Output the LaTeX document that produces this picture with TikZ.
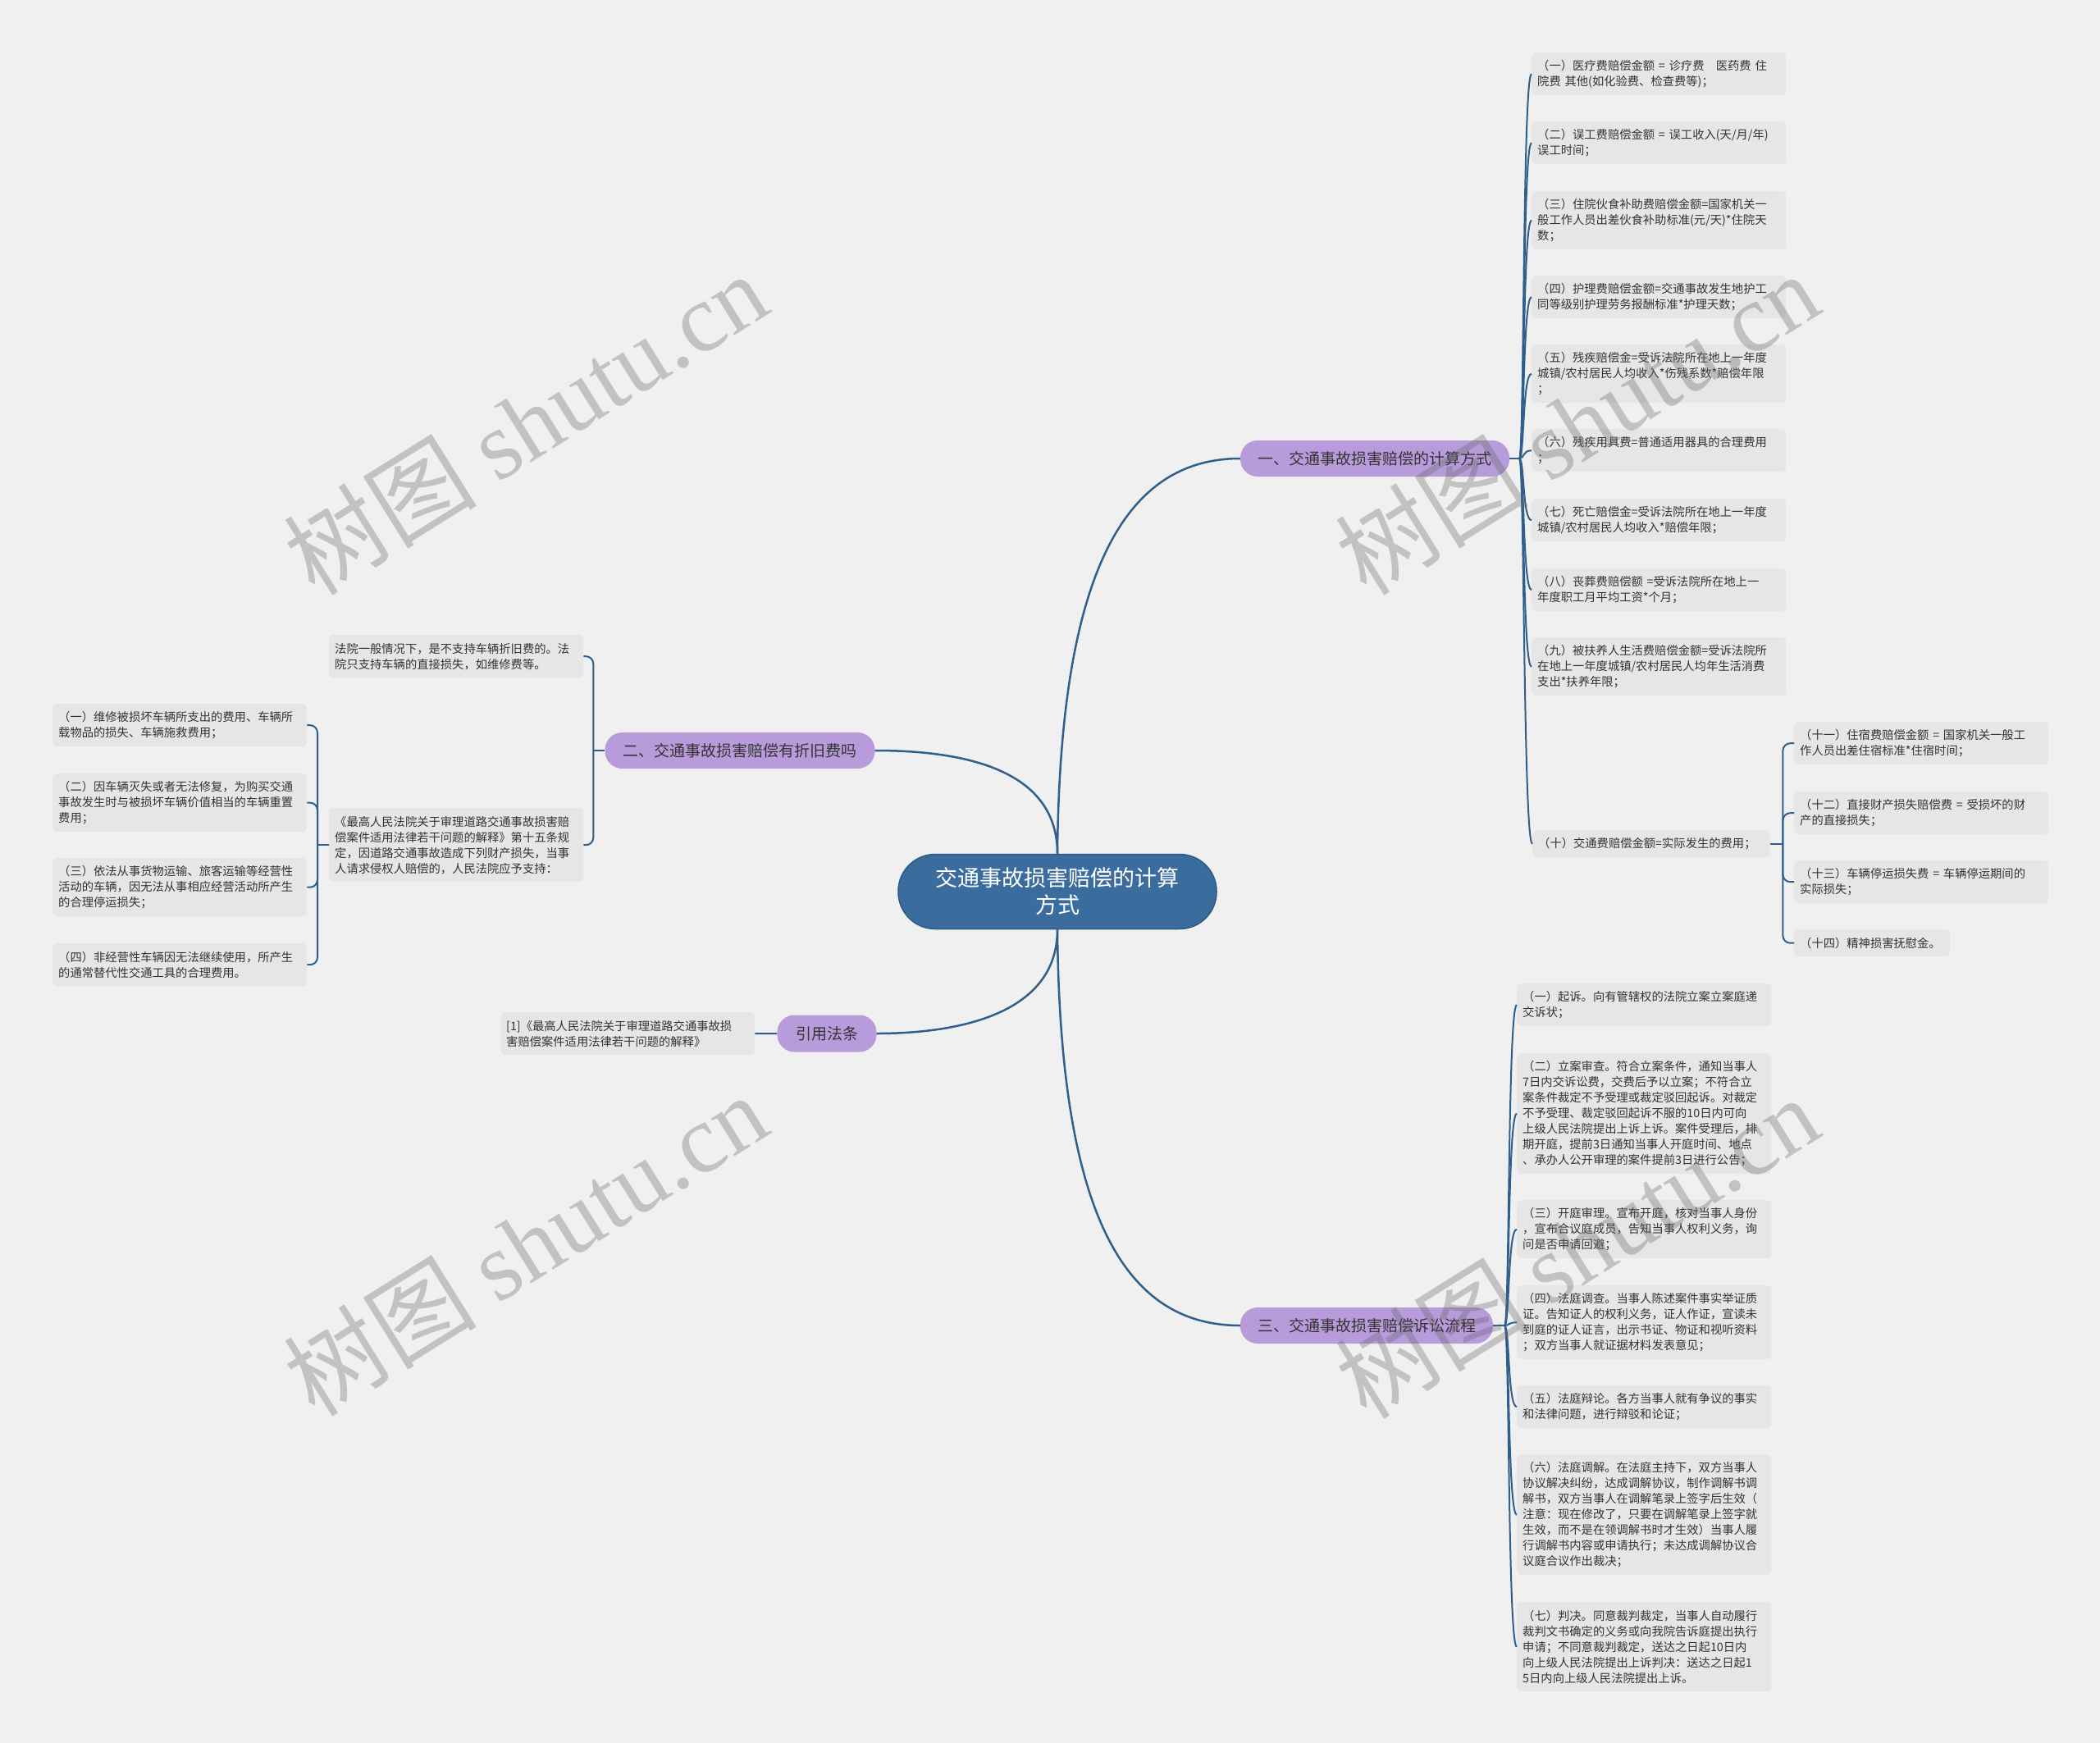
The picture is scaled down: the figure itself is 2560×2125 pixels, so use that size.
\documentclass[tikz,border=0pt]{standalone}
\usepackage{fontspec}
\setmainfont{Noto Sans CJK SC}
\newfontfamily\wmserif{Liberation Serif}
\newfontfamily\wmcjk{Noto Sans CJK SC}
\definecolor{bgc}{HTML}{F0F0F0}
\definecolor{leafbg}{HTML}{E6E6E6}
\definecolor{lnc}{HTML}{2F5F8A}
\definecolor{rootfill}{HTML}{3B6C9E}
\definecolor{rootline}{HTML}{2C5A86}
\definecolor{brfill}{HTML}{B89BDA}
\definecolor{txt}{HTML}{333333}
\newcommand\leaffont{\fontsize{14.3}{19}\selectfont}
\tikzset{
  leaf/.style={rectangle, rounded corners=6pt, fill=leafbg, inner xsep=7pt, inner ysep=0pt,
    text width=#1, align=left, font=\leaffont, text=txt, anchor=north west},
  leaf/.default=296pt,
  branchnode/.style={rectangle, rounded corners=21pt, fill=brfill, inner sep=0pt,
    minimum height=44pt, font=\fontsize{19}{23}\selectfont, text=txt},
  rootnode/.style={rectangle, rounded corners=45pt, fill=rootfill, draw=rootline, line width=1.5pt,
    minimum width=388pt, minimum height=91pt, inner sep=0pt, align=center,
    font=\fontsize{27}{33}\selectfont, text=white},
  mainline/.style={draw=lnc, line width=2.5pt},
  leafline/.style={draw=lnc, line width=2pt},
  wm/.style={text=black!60, opacity=0.33, inner sep=0pt}
}
\begin{document}
\begin{tikzpicture}[x=1pt,y=-1pt]
\useasboundingbox (0,0) rectangle (2560,2125);
\fill[bgc] (0,0) rectangle (2560,2125);

% root and branches
\node[rootnode] (root) at (1289,1087) {交通事故损害赔偿的计算\\方式};
\node[branchnode, minimum width=328pt] (b1) at (1676,559) {一、交通事故损害赔偿的计算方式};
\node[branchnode, minimum width=329pt] (b2) at (902,915) {二、交通事故损害赔偿有折旧费吗};
\node[branchnode, minimum width=308pt] (b3) at (1666,1616) {三、交通事故损害赔偿诉讼流程};
\node[branchnode, minimum width=121pt, minimum height=45pt] (b4) at (1008,1260) {引用法条};

% branch 1 leaves
\node[leaf, minimum height=52pt] (a1) at (1867,64) {（一）医疗费赔偿金额~=~诊疗费~~~医药费~住\\院费~其他(如化验费、检查费等)；};
\node[leaf, minimum height=52pt] (a2) at (1867,148) {（二）误工费赔偿金额~=~误工收入(天/月/年)\\*误工时间；};
\node[leaf, minimum height=71pt] (a3) at (1867,233) {（三）住院伙食补助费赔偿金额=国家机关一\\般工作人员出差伙食补助标准(元/天)*住院天\\数；};
\node[leaf, minimum height=52pt] (a4) at (1867,336) {（四）护理费赔偿金额=交通事故发生地护工\\同等级别护理劳务报酬标准*护理天数；};
\node[leaf, minimum height=71pt] (a5) at (1867,420) {（五）残疾赔偿金=受诉法院所在地上一年度\\城镇/农村居民人均收入*伤残系数*赔偿年限\\；};
\node[leaf, minimum height=52pt] (a6) at (1867,523) {（六）残疾用具费=普通适用器具的合理费用\\；};
\node[leaf, minimum height=52pt] (a7) at (1867,608) {（七）死亡赔偿金=受诉法院所在地上一年度\\城镇/农村居民人均收入*赔偿年限；};
\node[leaf, minimum height=52pt] (a8) at (1867,693) {（八）丧葬费赔偿额~=受诉法院所在地上一\\年度职工月平均工资*个月；};
\node[leaf, minimum height=71pt] (a9) at (1867,777) {（九）被扶养人生活费赔偿金额=受诉法院所\\在地上一年度城镇/农村居民人均年生活消费\\支出*扶养年限；};
\node[leaf=276pt, minimum height=33pt] (a10) at (1868,1012) {（十）交通费赔偿金额=实际发生的费用；};
\node[leaf, minimum height=52pt] (a11) at (2187,880) {（十一）住宿费赔偿金额~=~国家机关一般工\\作人员出差住宿标准*住宿时间；};
\node[leaf, minimum height=52pt] (a12) at (2187,965) {（十二）直接财产损失赔偿费~=~受损坏的财\\产的直接损失；};
\node[leaf, minimum height=52pt] (a13) at (2187,1049) {（十三）车辆停运损失费~=~车辆停运期间的\\实际损失；};
\node[leaf=176pt, minimum height=33pt] (a14) at (2187,1133) {（十四）精神损害抚慰金。};

% branch 3 leaves
\node[leaf, minimum height=52pt] (c1) at (1849,1199) {（一）起诉。向有管辖权的法院立案立案庭递\\交诉状；};
\node[leaf, minimum height=147pt] (c2) at (1849,1284) {（二）立案审查。符合立案条件，通知当事人\\7日内交诉讼费，交费后予以立案；不符合立\\案条件裁定不予受理或裁定驳回起诉。对裁定\\不予受理、裁定驳回起诉不服的10日内可向\\上级人民法院提出上诉上诉。案件受理后，排\\期开庭，提前3日通知当事人开庭时间、地点\\、承办人公开审理的案件提前3日进行公告；};
\node[leaf, minimum height=71pt] (c3) at (1849,1463) {（三）开庭审理。宣布开庭，核对当事人身份\\，宣布合议庭成员，告知当事人权利义务，询\\问是否申请回避；};
\node[leaf, minimum height=90pt] (c4) at (1849,1567) {（四）法庭调查。当事人陈述案件事实举证质\\证。告知证人的权利义务，证人作证，宣读未\\到庭的证人证言，出示书证、物证和视听资料\\；双方当事人就证据材料发表意见；};
\node[leaf, minimum height=52pt] (c5) at (1849,1689) {（五）法庭辩论。各方当事人就有争议的事实\\和法律问题，进行辩驳和论证；};
\node[leaf, minimum height=147pt] (c6) at (1849,1773) {（六）法庭调解。在法庭主持下，双方当事人\\协议解决纠纷，达成调解协议，制作调解书调\\解书，双方当事人在调解笔录上签字后生效（\\注意：现在修改了，只要在调解笔录上签字就\\生效，而不是在领调解书时才生效）当事人履\\行调解书内容或申请执行；未达成调解协议合\\议庭合议作出裁决；};
\node[leaf, minimum height=109pt] (c7) at (1849,1953) {（七）判决。同意裁判裁定，当事人自动履行\\裁判文书确定的义务或向我院告诉庭提出执行\\申请；不同意裁判裁定，送达之日起10日内\\向上级人民法院提出上诉判决：送达之日起1\\5日内向上级人民法院提出上诉。};

% branch 2 leaves
\node[leaf, minimum height=52pt] (dA) at (401,774) {法院一般情况下，是不支持车辆折旧费的。法\\院只支持车辆的直接损失，如维修费等。};
\node[leaf, minimum height=90pt] (dB) at (401,985) {《最高人民法院关于审理道路交通事故损害赔\\偿案件适用法律若干问题的解释》第十五条规\\定，因道路交通事故造成下列财产损失，当事\\人请求侵权人赔偿的，人民法院应予支持：};
\node[leaf, minimum height=52pt] (e1) at (64,858) {（一）维修被损坏车辆所支出的费用、车辆所\\载物品的损失、车辆施救费用；};
\node[leaf, minimum height=71pt] (e2) at (64,943) {（二）因车辆灭失或者无法修复，为购买交通\\事故发生时与被损坏车辆价值相当的车辆重置\\费用；};
\node[leaf, minimum height=71pt] (e3) at (64,1046) {（三）依法从事货物运输、旅客运输等经营性\\活动的车辆，因无法从事相应经营活动所产生\\的合理停运损失；};
\node[leaf, minimum height=52pt] (e4) at (64,1150) {（四）非经营性车辆因无法继续使用，所产生\\的通常替代性交通工具的合理费用。};

% citation leaf
\node[leaf, minimum height=52pt] (cite) at (610,1234) {[1]《最高人民法院关于审理道路交通事故损\\害赔偿案件适用法律若干问题的解释》};

% main connectors
\draw[mainline] (root.north) .. controls (1292,700) and (1370,559) .. (b1.west);
\draw[mainline] (root.north) .. controls (1289,940) and (1180,915) .. (b2.east);
\draw[mainline] (root.south) .. controls (1292,1480) and (1370,1616) .. (b3.west);
\draw[mainline] (root.south) .. controls (1289,1240) and (1160,1260) .. (b4.east);

% branch 1 to leaves
\draw[leafline] (b1.east) -- ++(12,0) coordinate (j1);
\foreach \n in {a1,a2,a3,a4,a5,a6,a7,a8,a9,a10}{
  \draw[leafline] (j1) .. controls ([xshift=6pt]j1) and ([xshift=-11pt]\n.west) .. (\n.west);
}
% ten's brace
\draw[leafline] (a10.east) -- ++(15,0) coordinate (j10);
\foreach \n in {a11,a12,a13,a14}{
  \draw[leafline, rounded corners=9pt] (j10) |- (\n.west);
}

% branch 3 to leaves
\draw[leafline] (b3.east) -- ++(14,0) coordinate (j3);
\foreach \n in {c1,c2,c3,c4,c5,c6,c7}{
  \draw[leafline] (j3) .. controls ([xshift=6pt]j3) and ([xshift=-11pt]\n.west) .. (\n.west);
}

% branch 2 brace
\draw[leafline] (b2.west) -- ++(-14,0) coordinate (j2);
\foreach \n in {dA,dB}{
  \draw[leafline, rounded corners=9pt] (j2) |- (\n.east);
}
\draw[leafline] (dB.west) -- ++(-14,0) coordinate (jB);
\foreach \n in {e1,e2,e3,e4}{
  \draw[leafline, rounded corners=9pt] (jB) |- (\n.east);
}

% citation
\draw[leafline] (cite.east) -- (b4.west);

% watermarks
\foreach \p/\nm in {{(640,516)}/w1,{(1922,516)}/w2,{(640,1517)}/w3,{(1922,1520)}/w4}{
  \node[wm, rotate=32] (\nm) at \p {\fontsize{118}{124}\selectfont\wmcjk 树图~{\wmserif shutu.cn}};
}
\end{tikzpicture}
\end{document}
